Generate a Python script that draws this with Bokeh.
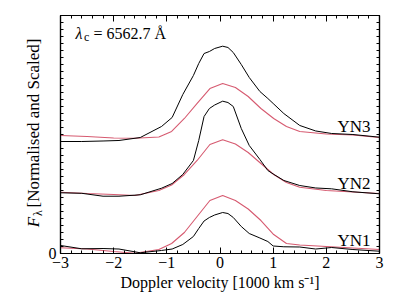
import numpy as np
from bokeh.plotting import figure
from bokeh.layouts import row
from bokeh.models import Range1d, FixedTicker, LinearAxis, Label
from bokeh.core.properties import value
from bokeh.embed import file_html
from bokeh.resources import INLINE

# ---- data ----
x_obs = [-3.0, -2.6, -2.2, -1.9, -1.5, -1.1, -0.9, -0.7, -0.5, -0.4, -0.3, -0.2, -0.1,
         0.05, 0.15, 0.25, 0.4, 0.55, 0.75, 0.9, 1.0, 1.2, 1.5, 1.8, 2.1, 2.5, 3.0]
yn1_obs = [0.143, 0.084, 0.089, 0.080, 0.013, 0.054, 0.080, 0.161, 0.304, 0.446, 0.580, 0.643, 0.688,
           0.732, 0.714, 0.643, 0.482, 0.357, 0.277, 0.214, 0.134, 0.120, 0.116, 0.080, 0.107, 0.071, 0.041]
yn2_obs = [1.084, 1.075, 1.023, 1.023, 1.048, 1.166, 1.250, 1.411, 1.661, 2.018, 2.446, 2.589, 2.652,
           2.720, 2.696, 2.625, 2.232, 1.929, 1.679, 1.482, 1.420, 1.304, 1.214, 1.170, 1.155, 1.102, 1.066]
yn3_obs = [2.000, 2.000, 2.009, 2.018, 2.071, 2.268, 2.429, 2.839, 3.179, 3.393, 3.571, 3.607, 3.661,
           3.702, 3.679, 3.589, 3.375, 3.143, 2.893, 2.768, 2.679, 2.500, 2.286, 2.188, 2.143, 2.125, 2.077]

x_mod = [-3.0, -2.5, -2.0, -1.6, -1.15, -0.91, -0.67, -0.43, -0.19, 0.05, 0.29, 0.53, 0.77,
         1.01, 1.25, 1.5, 2.0, 2.5, 3.0]
yn1_mod = [0.102, 0.080, 0.036, 0.005, 0.071, 0.179, 0.375, 0.661, 0.946, 1.036, 0.946, 0.795, 0.589,
           0.339, 0.179, 0.152, 0.125, 0.098, 0.071]
yn2_mod = [1.095, 1.071, 1.054, 1.036, 1.125, 1.223, 1.411, 1.661, 1.946, 2.030, 1.955, 1.804, 1.607,
           1.411, 1.268, 1.184, 1.125, 1.098, 1.071]
yn3_mod = [2.107, 2.089, 2.063, 2.059, 2.080, 2.179, 2.411, 2.679, 2.946, 3.036, 2.964, 2.804, 2.589,
           2.411, 2.268, 2.179, 2.134, 2.116, 2.071]

series_names = ["YN1", "YN2", "YN3"]
label_y = [0.24, 1.25, 2.26]

x_ticks = [-3, -2, -1, 0, 1, 2, 3]
x_tick_labels = ["\u22123", "\u22122", "\u22121", "0", "1", "2", "3"]

FONT = "Liberation Serif"
PINK = "#d65a70"
H = 295
W_LEFT = 44
W_MAIN = 347

p = figure(width=W_MAIN, height=H, output_backend="svg", toolbar_location=None,
           x_range=Range1d(-3, 3), y_range=Range1d(0, 4.25),
           min_border_left=16, min_border_right=12, min_border_top=15, min_border_bottom=42)
p.background_fill_color = "white"
p.border_fill_color = "white"
p.outline_line_color = "black"
p.outline_line_width = 1.2
p.xgrid.visible = False
p.ygrid.visible = False

xminor = [round(v, 2) for v in np.arange(-3, 3.001, 0.2)]
yminor = [round(v, 3) for v in np.arange(0, 4.251, 0.125)]

def style_x(ax, labels=True):
    ax.ticker = FixedTicker(ticks=x_ticks, minor_ticks=xminor)
    ax.major_tick_in = 6
    ax.major_tick_out = 0
    ax.minor_tick_in = 3
    ax.minor_tick_out = 0
    ax.axis_line_width = 1.2
    if labels:
        ax.major_label_overrides = {t: s for t, s in zip(x_ticks, x_tick_labels)}
        ax.major_label_text_font = FONT
        ax.major_label_text_font_size = "16px"
        ax.major_label_text_color = "black"
        ax.major_label_standoff = 3
    else:
        ax.major_label_text_font_size = "1px"
        ax.major_label_text_color = None
        ax.major_label_standoff = 0

def style_y(ax, labels=True):
    ax.ticker = FixedTicker(ticks=[0], minor_ticks=yminor)
    ax.major_tick_in = 6
    ax.major_tick_out = 0
    ax.minor_tick_in = 3
    ax.minor_tick_out = 0
    ax.axis_line_width = 1.2
    if labels:
        ax.major_label_text_font = FONT
        ax.major_label_text_font_size = "16px"
        ax.major_label_text_color = "black"
        ax.major_label_standoff = 4
    else:
        ax.major_label_text_font_size = "1px"
        ax.major_label_text_color = None
        ax.major_label_standoff = 0

style_x(p.xaxis[0])
style_y(p.yaxis[0])
p.xaxis[0].axis_label = "Doppler velocity [1000 km s\u207b\u00b9]"
p.xaxis[0].axis_label_text_font = FONT
p.xaxis[0].axis_label_text_font_size = "16px"
p.xaxis[0].axis_label_text_font_style = "normal"
p.xaxis[0].axis_label_text_color = "black"
p.xaxis[0].axis_label_standoff = 3

top = LinearAxis()
style_x(top, labels=False)
p.add_layout(top, "above")
right = LinearAxis()
style_y(right, labels=False)
p.add_layout(right, "right")

for yo, ym in [(yn1_obs, yn1_mod), (yn2_obs, yn2_mod), (yn3_obs, yn3_mod)]:
    p.line(x_mod, ym, line_color=PINK, line_width=1.1)
    p.line(x_obs, yo, line_color="black", line_width=1.0)

for name, ly in zip(series_names, label_y):
    p.add_layout(Label(x=2.83, y=ly, text=name, text_align="right", text_baseline="alphabetic",
                       text_font=FONT, text_font_size="17px", text_color="black"))

def dlabel(x, y, text, size="16px", style="normal"):
    p.add_layout(Label(x=x, y=y, text=text, text_font=FONT, text_font_size=size,
                       text_font_style=style, text_align="left", text_baseline="alphabetic",
                       text_color="black"))

# lambda_c annotation (data coordinates)
dlabel(-2.72, 3.93, "\u03bb", style="italic")
dlabel(-2.56, 3.86, "c", size="12px")
dlabel(-2.38, 3.93, "= 6562.7 \u00c5")

# ---- left strip holding the rotated y-axis label (shares the y scale of the plot) ----
q = figure(width=W_LEFT, height=H, output_backend="svg", toolbar_location=None,
           x_range=Range1d(0, W_LEFT), y_range=p.y_range,
           x_axis_type=None, y_axis_type=None, min_border=0)
q.outline_line_color = None
q.xgrid.visible = False
q.ygrid.visible = False
q.background_fill_color = "white"
q.border_fill_color = "white"
ang = np.pi / 2
ylab_parts = ["F", "\u03bb", "[Normalised and Scaled]"]
ylab_x = [32.5, 37, 32.5]
ylab_y = [0.56, 0.72, 2.33]
ylab_size = ["17px", "12px", "17px"]
ylab_style = ["italic", "normal", "normal"]
for t, xx, yy, sz, st in zip(ylab_parts, ylab_x, ylab_y, ylab_size, ylab_style):
    q.text(x=[xx], y=[yy], text=[t], angle=ang, text_font=value(FONT), text_font_size=value(sz),
           text_font_style=value(st), text_align="center", text_baseline="middle",
           text_color="black")

layout = row(q, p, spacing=0)
open("out.html", "w").write(file_html(layout, INLINE))
